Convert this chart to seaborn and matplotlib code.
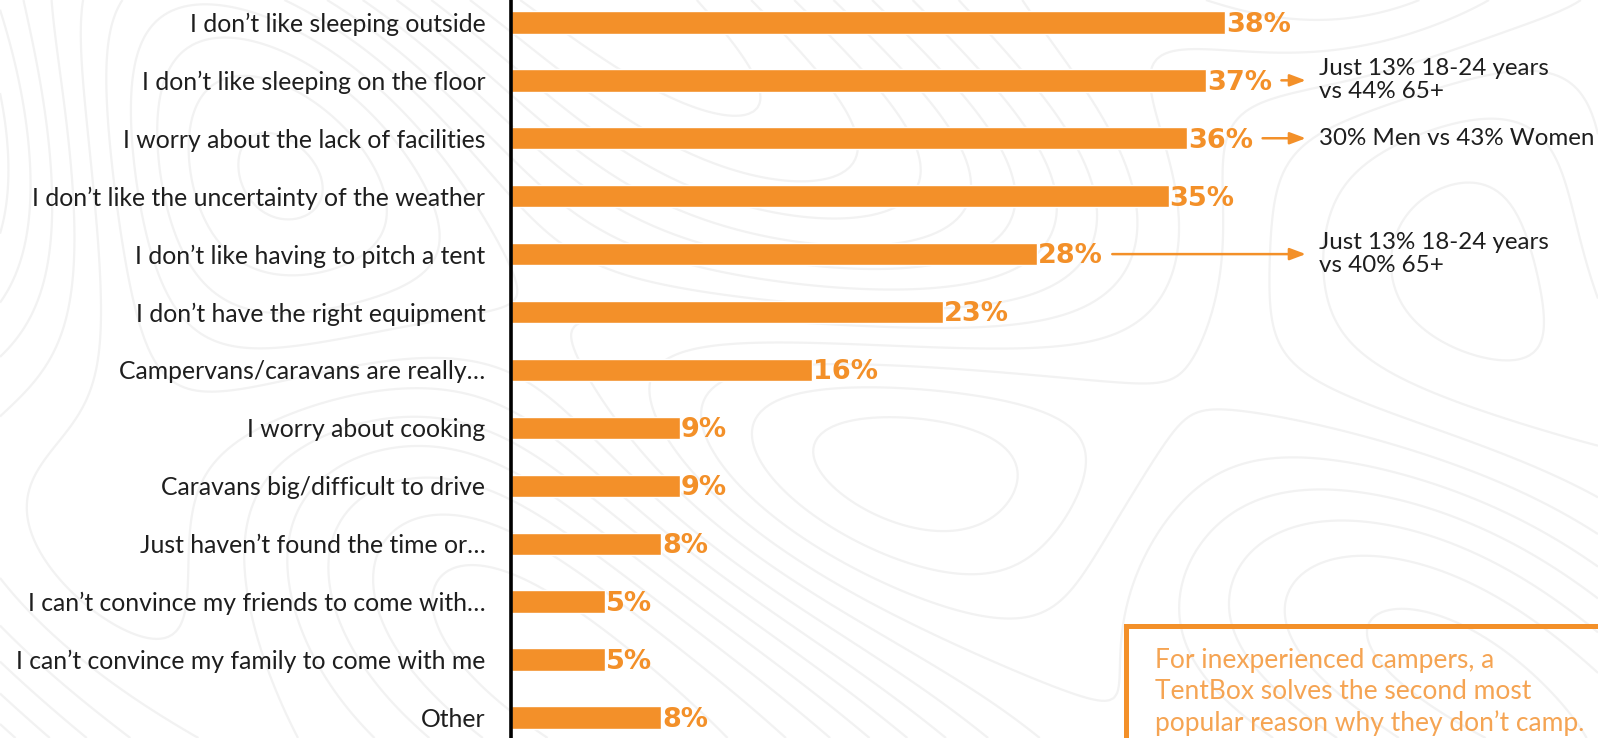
import numpy as np
import pandas as pd
import matplotlib
matplotlib.use("Agg")
import matplotlib.pyplot as plt
from matplotlib.patches import Rectangle
import seaborn as sns

# Reasons for not camping (share of respondents, %)
reasons = [
    "I don\u2019t like sleeping outside",
    "I don\u2019t like sleeping on the floor",
    "I worry about the lack of facilities",
    "I don\u2019t like the uncertainty of the weather",
    "I don\u2019t like having to pitch a tent",
    "I don\u2019t have the right equipment",
    "Campervans/caravans are really\u2026",
    "I worry about cooking",
    "Caravans big/difficult to drive",
    "Just haven\u2019t found the time or\u2026",
    "I can\u2019t convince my friends to come with\u2026",
    "I can\u2019t convince my family to come with me",
    "Other",
]
shares = [38, 37, 36, 35, 28, 23, 16, 9, 9, 8, 5, 5, 8]

# Side notes attached to some bars: (row index, text)
notes_rows = [1, 2, 4]
notes_text = [
    "Just 13% 18-24 years\nvs 44% 65+",
    "30% Men vs 43% Women",
    "Just 13% 18-24 years\nvs 40% 65+",
]
callout = "For inexperienced campers, a\nTentBox solves the second most\npopular reason why they don\u2019t camp."

ORANGE = "#F39029"
LIGHT_ORANGE = "#F5A453"
TEXT = "#1E1E1E"

sns.set_theme(style="white")
plt.rcParams["font.family"] = ["Lato", "DejaVu Sans"]

W, H = 1598, 738
fig = plt.figure(figsize=(W / 100, H / 100), dpi=100)
fig.patch.set_facecolor("white")

# faint topographic decoration in the background
bg = fig.add_axes([0, 0, 1, 1], zorder=0)
gx, gy = np.meshgrid(np.linspace(0, 16, 400), np.linspace(0, 7.4, 200))
field = (np.exp(-((gx - 2.0) ** 2 / 6 + (gy - 4.5) ** 2 / 9))
         + 0.8 * np.exp(-((gx - 10.5) ** 2 / 14 + (gy - 3.2) ** 2 / 3))
         + 0.6 * np.exp(-((gx - 15.5) ** 2 / 4 + (gy - 6.5) ** 2 / 4))
         + 0.3 * np.sin(gx * 0.7 + gy * 0.9)
         + 0.05 * gx)
bg.contour(gx, gy, field, levels=14, colors="#F2F2F2", linewidths=1.6)
bg.set_xlim(0, 16)
bg.set_ylim(0, 7.4)
bg.axis("off")

df = pd.DataFrame({"reason": reasons, "share": shares})

ax = fig.add_axes([511 / W, 0, 1 - 511 / W, 1], zorder=1)
ax.patch.set_alpha(0)
sns.barplot(data=df, y="reason", x="share", orient="h", color=ORANGE,
            saturation=1, width=0.387, ax=ax)

ax.set_xlim(0, 57.85)
ax.set_ylim(12.354, -0.387)
ax.set_xlabel("")
ax.set_ylabel("")
ax.set_xticks([])
ax.tick_params(axis="y", length=0, pad=18.5, labelsize=17.8, labelcolor=TEXT)
for s in ["top", "right", "bottom"]:
    ax.spines[s].set_visible(False)
ax.spines["left"].set_color("black")
ax.spines["left"].set_linewidth(2.6)

# value labels at the end of each bar
for i, v in enumerate(shares):
    ax.text(v + 0.05, i + 0.04, f"{v}%", color=ORANGE, fontsize=19.5, fontweight="bold",
            family=["DejaVu Sans"], va="center", ha="left")

# side notes with arrows
for row, txt in zip(notes_rows, notes_text):
    ax.annotate("", xy=(42.3, row), xytext=(shares[row] + 4.0, row),
                arrowprops=dict(arrowstyle="-|>,head_length=0.8,head_width=0.3",
                                color=ORANGE, lw=1.8, shrinkA=0, shrinkB=0))
    ax.text(43.0, row, txt, color=TEXT, fontsize=17.4, va="center", ha="left",
            linespacing=1.1)

# callout box
fig.patches.append(Rectangle((1125.5 / W, -0.05), 0.4, (H - 625.5) / H + 0.05,
                             transform=fig.transFigure, fill=False,
                             edgecolor=ORANGE, linewidth=3.6, zorder=3))
fig.text(1155 / W, 1 - 692 / H, callout, color=LIGHT_ORANGE, fontsize=19,
         va="center", ha="left", linespacing=1.3, zorder=4)

fig.savefig("out.png", dpi=100, facecolor="white")
